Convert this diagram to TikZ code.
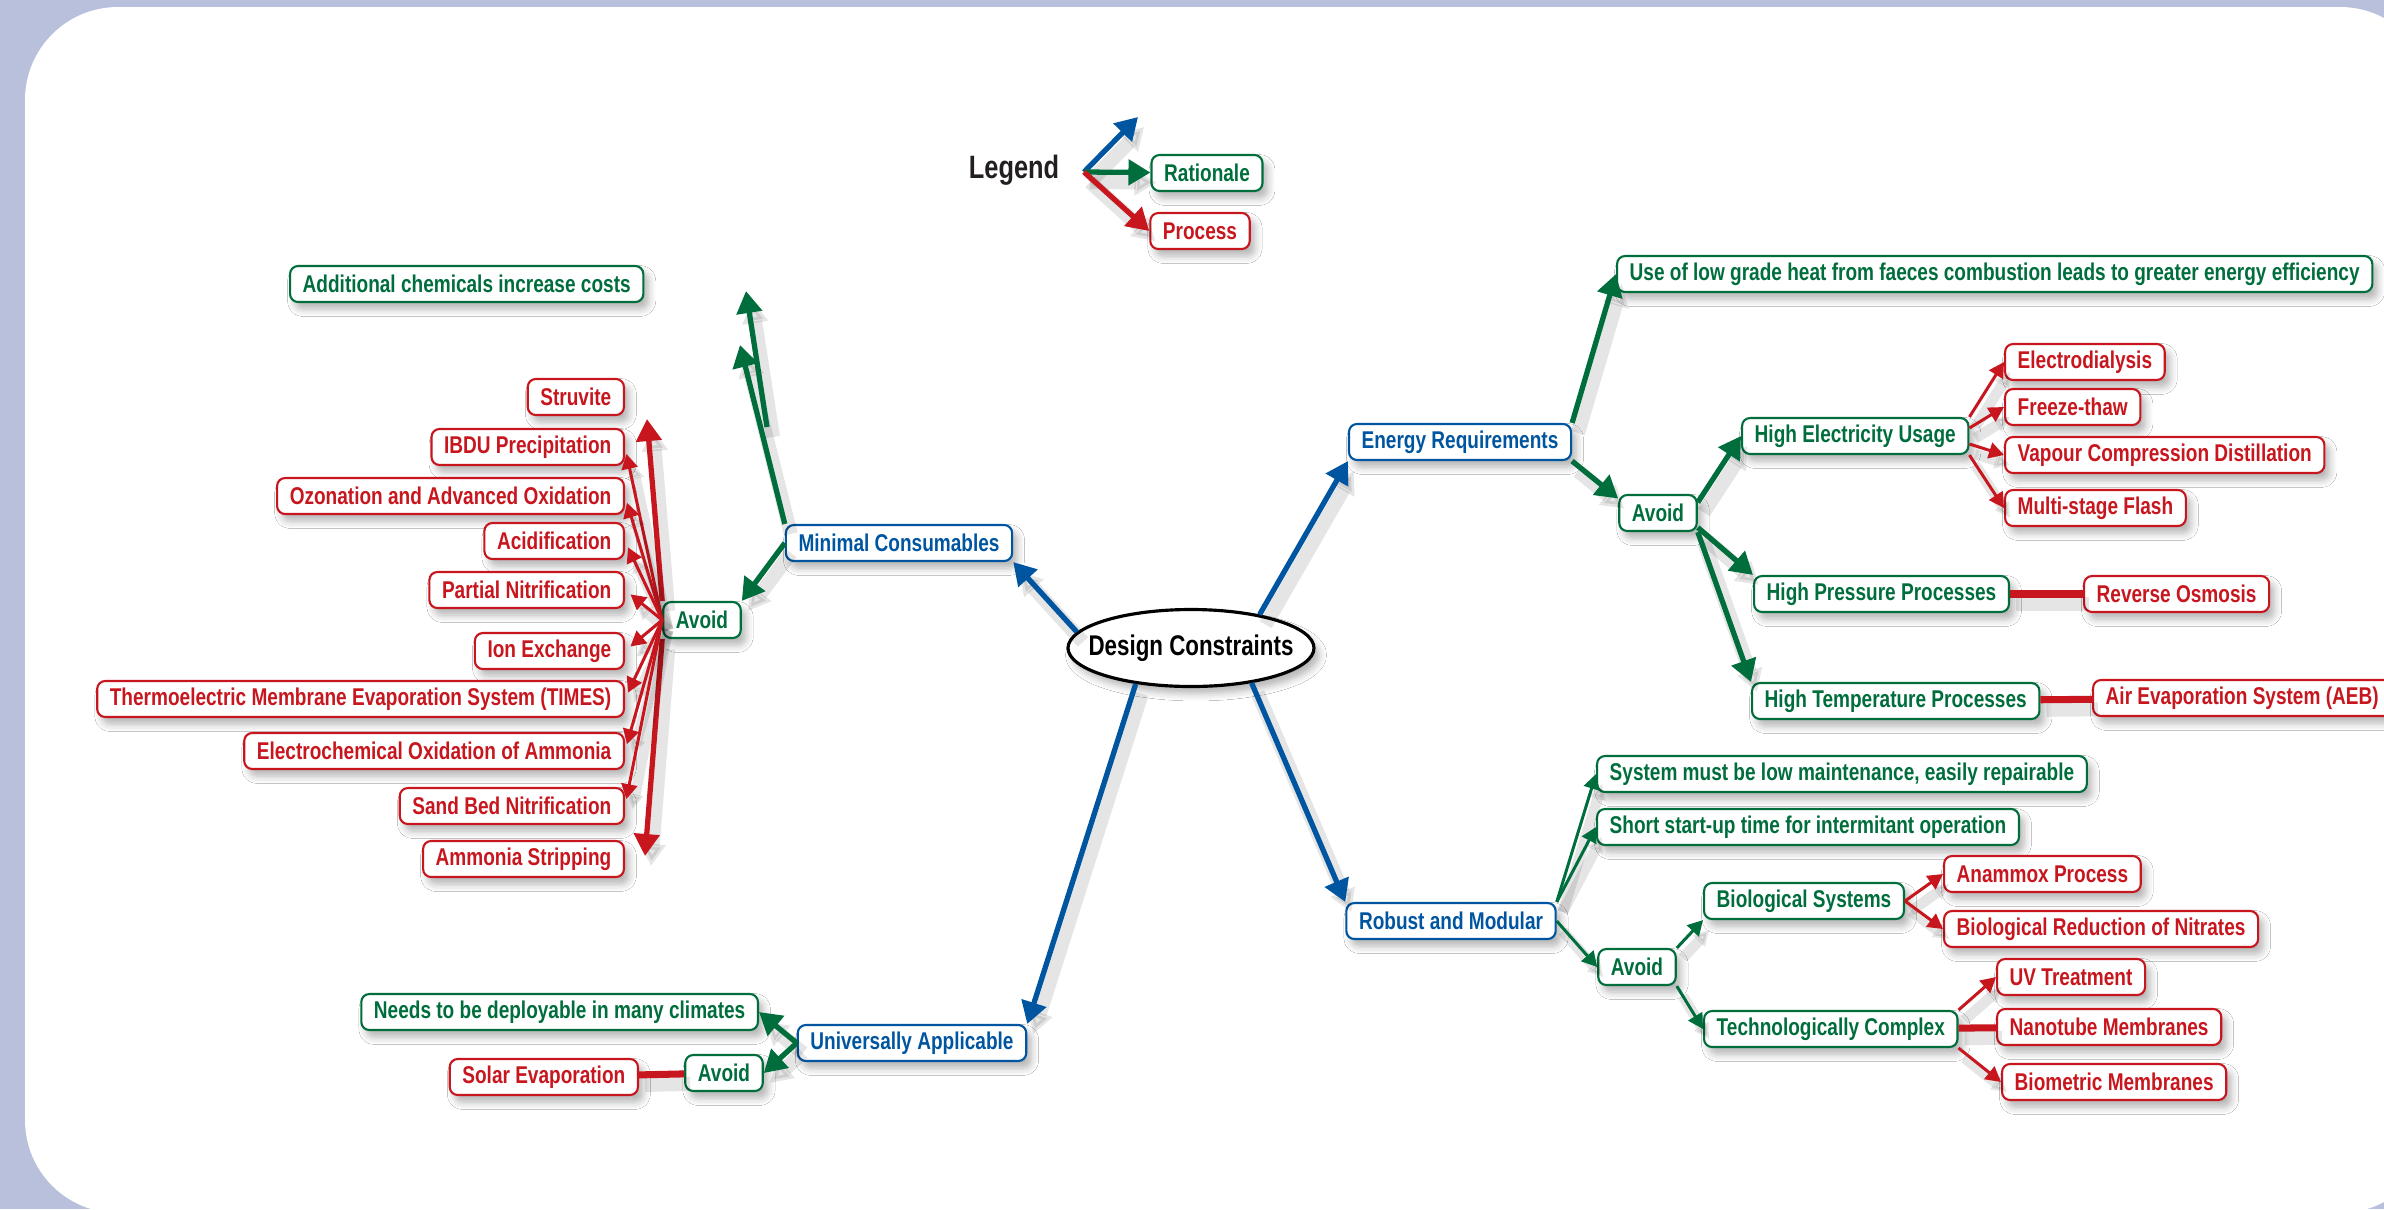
\documentclass[tikz,border=0pt]{standalone}
\usepackage{fontspec}
\setmainfont{Liberation Sans}[FakeStretch=0.785]
\usetikzlibrary{arrows.meta,shapes.geometric,shadows.blur}
\definecolor{dcblue}{RGB}{0,85,160}
\definecolor{ratgreen}{RGB}{0,110,60}
\definecolor{procred}{RGB}{200,22,30}
\definecolor{framebg}{RGB}{184,192,220}
\definecolor{legendgray}{RGB}{35,31,32}

\begin{document}
\begin{tikzpicture}
  [x=1cm,y=-1cm,
   every node/.style={font=\bfseries\fontsize{6.9}{7.5}\selectfont},
   box/.style={draw,fill=white,rounded corners=.08cm,line width=.6pt,inner xsep=3.6pt,inner ysep=0pt,minimum height=.36cm,
     blur shadow={shadow xshift=.05cm,shadow yshift=-.07cm,shadow opacity=30,shadow blur steps=6}},
   head/.style={box,draw=dcblue,text=dcblue},
   why/.style={box,draw=ratgreen,text=ratgreen},
   how/.style={box,draw=procred,text=procred},
   shade/.style={preaction={draw=black,opacity=.1,line width=#1,transform canvas={shift={(.06,.1)}}}},
   bigtip/.style={-{Triangle[length=.22cm,width=.25cm]},line width=1.5pt,shade=4pt},
   smalltip/.style={-{Triangle[length=.15cm,width=.16cm]},line width=.85pt,shade=3pt},
   blu/.style={bigtip,draw=dcblue},
   grn/.style={bigtip,draw=ratgreen},
   grnthin/.style={smalltip,draw=ratgreen},
   redthick/.style={bigtip,draw=procred},
   redthin/.style={smalltip,draw=procred},
   redbar/.style={-,line width=2pt,draw=procred,shade=4pt}]

  % frame
  \useasboundingbox (0,0) rectangle (23.84,12.09);
  \fill[framebg] (0,0) rectangle (23.84,12.09);
  \fill[white,rounded corners=.93cm] (.25,.07) rectangle (24.33,12.13);

  % centre and the four constraints
  \node[ellipse,draw,fill=white,line width=.9pt,inner sep=0pt,minimum width=2.46cm,minimum height=.77cm,
        font=\bfseries\fontsize{8.1}{9}\selectfont,
        blur shadow={shadow xshift=.05cm,shadow yshift=-.07cm,shadow opacity=30}] (dc) at (11.91,6.48) {\makebox[0pt]{Design Constraints}};
  \node[head] (mc) at (8.99,5.43) {Minimal Consumables};
  \node[head] (er) at (14.60,4.42) {Energy Requirements};
  \node[head] (rm) at (14.51,9.21) {Robust and Modular};
  \node[head] (ua) at (9.12,10.43) {Universally Applicable};

  % legend
  \node[font=\bfseries\fontsize{9.2}{10}\selectfont,text=legendgray] (lgd) at (10.14,1.70) {Legend};
  \coordinate (lg) at (10.84,1.72);
  \coordinate (lgup) at (11.38,1.17);
  \node[why] (rat) at (12.07,1.73) {Rationale};
  \node[how] (pro) at (12.00,2.31) {Process};

  % minimal consumables
  \node[why,anchor=west] (addchem) at (2.89,2.84) {Additional chemicals increase costs};
  \coordinate (mcup) at (7.40,3.45);
  \coordinate (mcfork) at (7.67,4.27);
  \coordinate (mctop) at (7.46,2.91);
  \node[why] (avmc) at (7.02,6.20) {Avoid};
  \node[how,anchor=east] (struv) at (6.25,3.97) {Struvite};
  \node[how,anchor=east] (ibdu) at (6.25,4.47) {IBDU Precipitation};
  \node[how,anchor=east] (ozon) at (6.25,4.96) {Ozonation and Advanced Oxidation};
  \node[how,anchor=east] (acid) at (6.25,5.41) {Acidification};
  \node[how,anchor=east] (pnit) at (6.25,5.90) {Partial Nitrification};
  \node[how,anchor=east] (ionx) at (6.25,6.51) {Ion Exchange};
  \node[how,anchor=east] (times) at (6.25,6.99) {Thermoelectric Membrane Evaporation System (TIMES)};
  \node[how,anchor=east] (eoxa) at (6.25,7.51) {Electrochemical Oxidation of Ammonia};
  \node[how,anchor=east] (sand) at (6.25,8.06) {Sand Bed Nitrification};
  \node[how,anchor=east] (astr) at (6.25,8.59) {Ammonia Stripping};

  % energy requirements
  \node[why,anchor=west] (heat) at (16.16,2.74) {Use of low grade heat from faeces combustion leads to greater energy efficiency};
  \node[why] (aver) at (16.58,5.13) {Avoid};
  \node[why,anchor=west] (elec) at (17.41,4.36) {High Electricity Usage};
  \node[why,anchor=west] (pres) at (17.53,5.94) {High Pressure Processes};
  \node[why,anchor=west] (temp) at (17.51,7.01) {High Temperature Processes};
  \node[how,anchor=west] (edia) at (20.04,3.62) {Electrodialysis};
  \node[how,anchor=west] (frth) at (20.04,4.07) {Freeze-thaw};
  \node[how,anchor=west] (vcd) at (20.04,4.55) {Vapour Compression Distillation};
  \node[how,anchor=west] (msf) at (20.04,5.08) {Multi-stage Flash};
  \node[how,anchor=west] (ro) at (20.83,5.94) {Reverse Osmosis};
  \node[how,anchor=west] (aeb) at (20.92,6.98) {Air Evaporation System (AEB)};

  % robust and modular
  \node[why,anchor=west] (lowm) at (15.96,7.74) {System must be low maintenance, easily repairable};
  \node[why,anchor=west] (stup) at (15.96,8.27) {Short start-up time for intermitant operation};
  \node[why] (avrm) at (16.37,9.67) {Avoid};
  \node[why,anchor=west] (bios) at (17.03,9.01) {Biological Systems};
  \node[why,anchor=west] (tcx) at (17.03,10.29) {Technologically Complex};
  \node[how,anchor=west] (anam) at (19.43,8.74) {Anammox Process};
  \node[how,anchor=west] (brn) at (19.43,9.29) {Biological Reduction of Nitrates};
  \node[how,anchor=west] (uvt) at (19.96,9.77) {UV Treatment};
  \node[how,anchor=west] (nano) at (19.96,10.27) {Nanotube Membranes};
  \node[how,anchor=west] (biom) at (20.01,10.82) {Biometric Membranes};

  % universally applicable
  \node[why,anchor=east] (clim) at (7.59,10.12) {Needs to be deployable in many climates};
  \node[why] (avua) at (7.24,10.73) {Avoid};
  \node[how,anchor=east] (solar) at (6.39,10.77) {Solar Evaporation};

\path
    (lg) edge[blu] (lgup)
    (lg) edge[grn] (rat)
    (lg) edge[redthick] (pro.west)
    (dc.172) edge[blu] (mc.south east)
    (dc.26) edge[blu] (er.south west)
    (dc.-30) edge[blu] (rm.north west)
    (dc.213) edge[blu] (ua.north east)
;
\path
    (mc.north west) edge[grn] (mcup)
    (mcfork) edge[grn] (mctop)
    (mc.west) edge[grn] (avmc.north east)
    (avmc.north west) edge[redthick] ([shift={(.22,.03)}]struv.south east)
    (avmc.south west) edge[redthick] ([shift={(.2,-.03)}]astr.east)
    (avmc.west) edge[redthin,shorten >=2pt] (ibdu.east)
    (avmc.west) edge[redthin,shorten >=2pt] (ozon.east)
    (avmc.west) edge[redthin,shorten >=2pt] (acid.east)
    (avmc.west) edge[redthin,shorten >=2pt] (pnit.east)
    (avmc.west) edge[redthin,shorten >=2pt] (ionx.east)
    (avmc.west) edge[redthin,shorten >=2pt] (times.east)
    (avmc.west) edge[redthin,shorten >=2pt] (eoxa.east)
    (avmc.west) edge[redthin,shorten >=2pt] (sand.east)
;
\path
    (er.north east) edge[grn] (heat.west)
    (er.south east) edge[grn] (aver.160)
    (aver.15) edge[grn] (elec.west)
    (aver.-20) edge[grn] (pres.north west)
    (aver.south east) edge[grn] (temp.north west)
    (elec.north east) edge[redthin] (edia.west)
    (elec.4) edge[redthin] (frth.west)
    (elec.-4) edge[redthin] (vcd.west)
    (elec.south east) edge[redthin] (msf.west)
    (pres) edge[redbar] (ro)
    (temp) edge[redbar] (aeb)
;
\path
    (rm.north east) edge[grnthin] (lowm.west)
    (rm.north east) edge[grnthin] (stup.west)
    (rm.east) edge[grnthin] (avrm.west)
    (avrm.north east) edge[grnthin] (bios.south west)
    (avrm.south east) edge[grnthin] (tcx.west)
    (bios.east) edge[redthin] (anam.west)
    (bios.east) edge[redthin] (brn.west)
    (tcx.north east) edge[redthin] (uvt.west)
    (tcx) edge[redbar] (nano)
    (tcx.south east) edge[redthin] (biom.west)
;
\path
    (ua.west) edge[grn] (clim.east)
    (ua.west) edge[grn] (avua.east)
    (avua) edge[redbar] (solar)
;
\end{tikzpicture}
\end{document}
